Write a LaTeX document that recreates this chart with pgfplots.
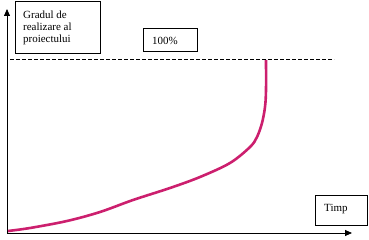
\documentclass[border=0pt]{standalone}
\usepackage{pgfplots}
\pgfplotsset{compat=1.18}
\usepackage{fontspec}
\setmainfont{Liberation Serif}
\usetikzlibrary{arrows.meta}
\definecolor{curve}{RGB}{204,31,110}
\begin{document}
\begin{tikzpicture}
\begin{axis}[
  scale only axis, width=345bp, height=224bp,
  xmin=0, xmax=345, ymin=0, ymax=224,
  axis lines=left, xtick=\empty, ytick=\empty,
  axis line style={line width=0.8bp, -{Triangle[length=7bp,width=6bp]}},
  clip=false,
  font=\fontsize{11}{12}\selectfont,
]
\path (axis cs:-7,-7) rectangle (axis cs:362,233);
% dashed 100% line
\addplot[black, line width=0.6bp, dash pattern=on 4bp off 2bp] coordinates {(3,174) (327,174)};
% curve
\addplot[curve, line width=2.6bp, smooth, tension=0.55] coordinates {
(1,2) (23,5) (60,12) (93,21) (126,33) (163,45) (193,56) (223,70) (243,86) (250,96) (255,110) (258,126) (259,143) (259,173)};
% boxes
\draw[line width=0.7bp] (axis cs:8,180) rectangle (axis cs:93,232);
\node[anchor=base west, inner sep=0pt] at (axis cs:16,215) {Gradul de};
\node[anchor=base west, inner sep=0pt] at (axis cs:16,203) {realizare al};
\node[anchor=base west, inner sep=0pt] at (axis cs:16,191) {proiectului};
\draw[line width=0.7bp] (axis cs:136,182) rectangle (axis cs:190,205);
\node[anchor=base west, inner sep=0pt] at (axis cs:145,189) {100\%};
\draw[line width=0.7bp] (axis cs:308,8) rectangle (axis cs:360,38);
\node[anchor=base west, inner sep=0pt] at (axis cs:317,22) {Timp};
\end{axis}
\end{tikzpicture}
\end{document}
